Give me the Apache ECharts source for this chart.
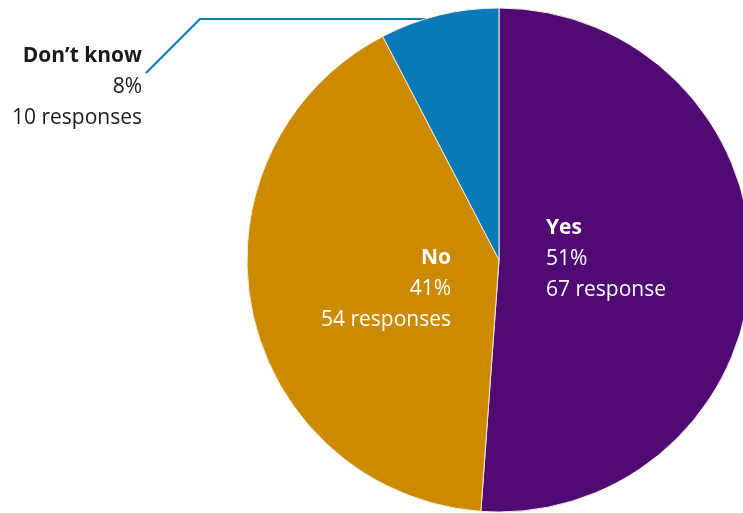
<!DOCTYPE html>
<html>
<head>
<meta charset="utf-8">
<style>
  html, body { margin: 0; padding: 0; background: #ffffff; }
  #chart { width: 743px; height: 513px; }
</style>
<script src="https://cdn.jsdelivr.net/npm/echarts@6/dist/echarts.min.js"></script>
</head>
<body>
<div id="chart"></div>
<script>
// Survey answers and their response counts
const answers = ['Yes', 'No', 'Don’t know'];
const responses = [67, 54, 10];
const responseWords = ['response', 'responses', 'responses'];
const sliceColors = ['#4f0a74', '#cc8a00', '#0a79b8'];

const CX = 499, CY = 260, R = 252;
const FONT = '"Open Sans", Lato, sans-serif';
const SIZE = 21;

const chart = echarts.init(document.getElementById('chart'), null, { renderer: 'canvas' });

const data = answers.map((name, i) => {
  const inside = i < 2;
  return {
    name: name,
    value: responses[i],
    itemStyle: { color: sliceColors[i] },
    label: {
      show: true,
      position: inside ? 'inside' : 'outside',
      color: inside ? '#ffffff' : '#1a1a1a'
    },
    labelLine: { show: !inside }
  };
});

chart.setOption({
  animation: false,
  series: [{
    type: 'pie',
    center: [CX, CY],
    radius: [0, R],
    startAngle: 90,
    clockwise: true,
    avoidLabelOverlap: false,
    itemStyle: { borderColor: '#f4ecd8', borderWidth: 1 },
    label: {
      fontFamily: FONT,
      fontSize: SIZE,
      lineHeight: 31,
      formatter: p => '{b|' + p.name + '}\n{v|' + Math.round(p.percent) + '%}\n{v|' +
        p.value + ' ' + responseWords[p.dataIndex] + '}',
      rich: {
        b: { fontFamily: FONT, fontSize: SIZE, fontWeight: 'bold', lineHeight: 31 },
        v: { fontFamily: FONT, fontSize: SIZE, lineHeight: 31 }
      }
    },
    labelLine: {
      lineStyle: { color: '#0a79b8', width: 2 }
    },
    labelLayout: function (p) {
      if (p.dataIndex === 0) {
        return { x: 546, y: 213, align: 'left', verticalAlign: 'top' };
      }
      if (p.dataIndex === 1) {
        return { x: 451, y: 243, align: 'right', verticalAlign: 'top' };
      }
      // leader for the small slice: runs left along the top, then drops to the label
      const ly = 19;
      const lx = CX - Math.sqrt(R * R - (CY - ly) * (CY - ly));
      return {
        x: 142, y: 41, align: 'right', verticalAlign: 'top',
        labelLinePoints: [[lx, ly], [200, ly], [146, 73]]
      };
    },
    data: data
  }]
});
</script>
</body>
</html>
